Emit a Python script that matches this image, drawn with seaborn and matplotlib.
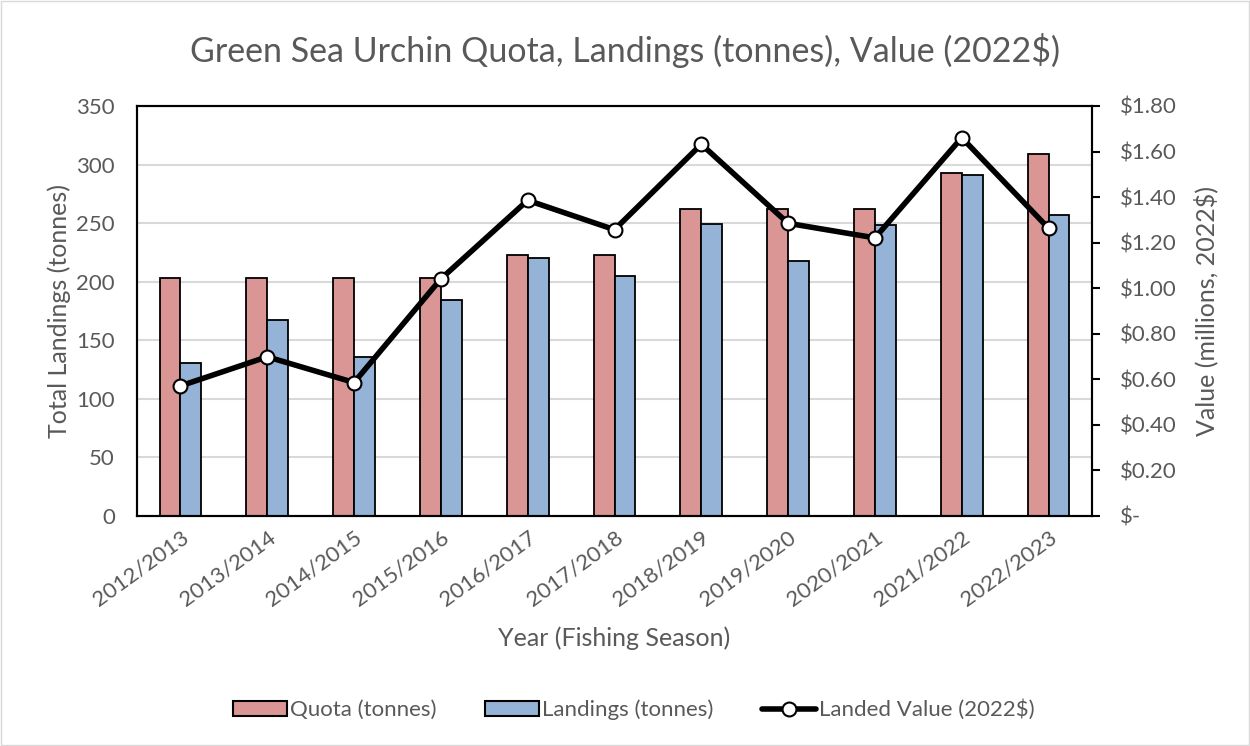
import pandas as pd
import matplotlib.pyplot as plt
import seaborn as sns
from matplotlib.patches import Patch, Rectangle
from matplotlib.lines import Line2D

seasons = ['2012/2013', '2013/2014', '2014/2015', '2015/2016', '2016/2017', '2017/2018',
           '2018/2019', '2019/2020', '2020/2021', '2021/2022', '2022/2023']
quota = [203, 203, 203, 203, 223, 223, 262, 262, 262, 293, 309]
landings = [131, 167, 136, 184, 220, 205, 249, 218, 248, 291, 257]
value = [0.571, 0.699, 0.586, 1.041, 1.386, 1.257, 1.632, 1.285, 1.221, 1.661, 1.263]

value_ticks = [0, 0.2, 0.4, 0.6, 0.8, 1.0, 1.2, 1.4, 1.6, 1.8]
value_labels = ['$-'] + ['$%.2f' % v for v in value_ticks[1:]]

quota_color = '#DA9694'
landings_color = '#95B3D7'
txt = '#595959'

df = pd.DataFrame({'Season': seasons, 'Quota (tonnes)': quota,
                   'Landings (tonnes)': landings, 'Value': value})
bars = df.melt(id_vars='Season', value_vars=['Quota (tonnes)', 'Landings (tonnes)'],
               var_name='Series', value_name='Tonnes')

sns.set_style('white')
plt.rcParams['font.family'] = ['Lato', 'DejaVu Sans']
plt.rcParams['text.color'] = txt
plt.rcParams['axes.labelcolor'] = txt
plt.rcParams['xtick.color'] = txt
plt.rcParams['ytick.color'] = txt

fig = plt.figure(figsize=(12.5, 7.46), dpi=100)
ax = fig.add_axes([137 / 1250, 1 - 516 / 746, (1092 - 137) / 1250, (516 - 106) / 746])

sns.barplot(data=bars, x='Season', y='Tonnes', hue='Series',
            palette=[quota_color, landings_color], saturation=1, width=0.48, gap=0,
            edgecolor='black', linewidth=1.3, legend=False, ax=ax)
ax.set_ylim(0, 350)
ax.set_yticks(range(0, 351, 50))
ax.yaxis.grid(True, color='#d9d9d9', linewidth=1.5)
ax.set_axisbelow(True)
for s in ax.spines.values():
    s.set_color('black')
    s.set_linewidth(1.5)

ax2 = ax.twinx()
sns.pointplot(data=df, x='Season', y='Value', ax=ax2, color='black', markers='o',
              linewidth=4, markersize=10, markerfacecolor='white',
              markeredgecolor='black', markeredgewidth=1.5, errorbar=None)
ax2.set_ylim(0, 1.8)
ax2.set_yticks(value_ticks)
ax2.set_yticklabels(value_labels)
ax2.tick_params(axis='y', direction='out', length=6, width=1.5, color='black',
                labelsize=16, pad=14)
ax2.set_ylabel('Value (millions, 2022$)', fontsize=18, labelpad=12)
for s in ax2.spines.values():
    s.set_color('black')
    s.set_linewidth(1.5)

ax.set_xlim(-0.5, len(seasons) - 0.5)
ax.tick_params(axis='y', length=0, labelsize=16, pad=16)
ax.tick_params(axis='x', length=0, labelsize=16, pad=8)
ax.set_xticks(range(len(seasons)))
ax.set_xticklabels(seasons, rotation=36, ha='right', rotation_mode='anchor')
ax.set_xlabel('Year (Fishing Season)', fontsize=18, labelpad=12)
ax.set_ylabel('Total Landings (tonnes)', fontsize=18, labelpad=4)

fig.suptitle('Green Sea Urchin Quota, Landings (tonnes), Value (2022$)',
             fontsize=24.5, color=txt, y=1 - 50 / 746, va='center')

handles = [Patch(facecolor=quota_color, edgecolor='black', linewidth=1.5),
           Patch(facecolor=landings_color, edgecolor='black', linewidth=1.5),
           Line2D([], [], color='black', linewidth=4, marker='o', markersize=10,
                  markerfacecolor='white', markeredgecolor='black', markeredgewidth=1.5)]
fig.legend(handles, ['Quota (tonnes)', 'Landings (tonnes)', 'Landed Value (2022$)'],
           loc='center', bbox_to_anchor=(634 / 1250, 1 - 710 / 746), ncol=3,
           frameon=False, fontsize=16, handlelength=2.4, handletextpad=0.15,
           columnspacing=2.2)

fig.patches.append(Rectangle((0.001, 0.001), 0.998, 0.997, transform=fig.transFigure,
                             fill=False, edgecolor='#d9d9d9', linewidth=1))

fig.savefig('out.png', dpi=100)
